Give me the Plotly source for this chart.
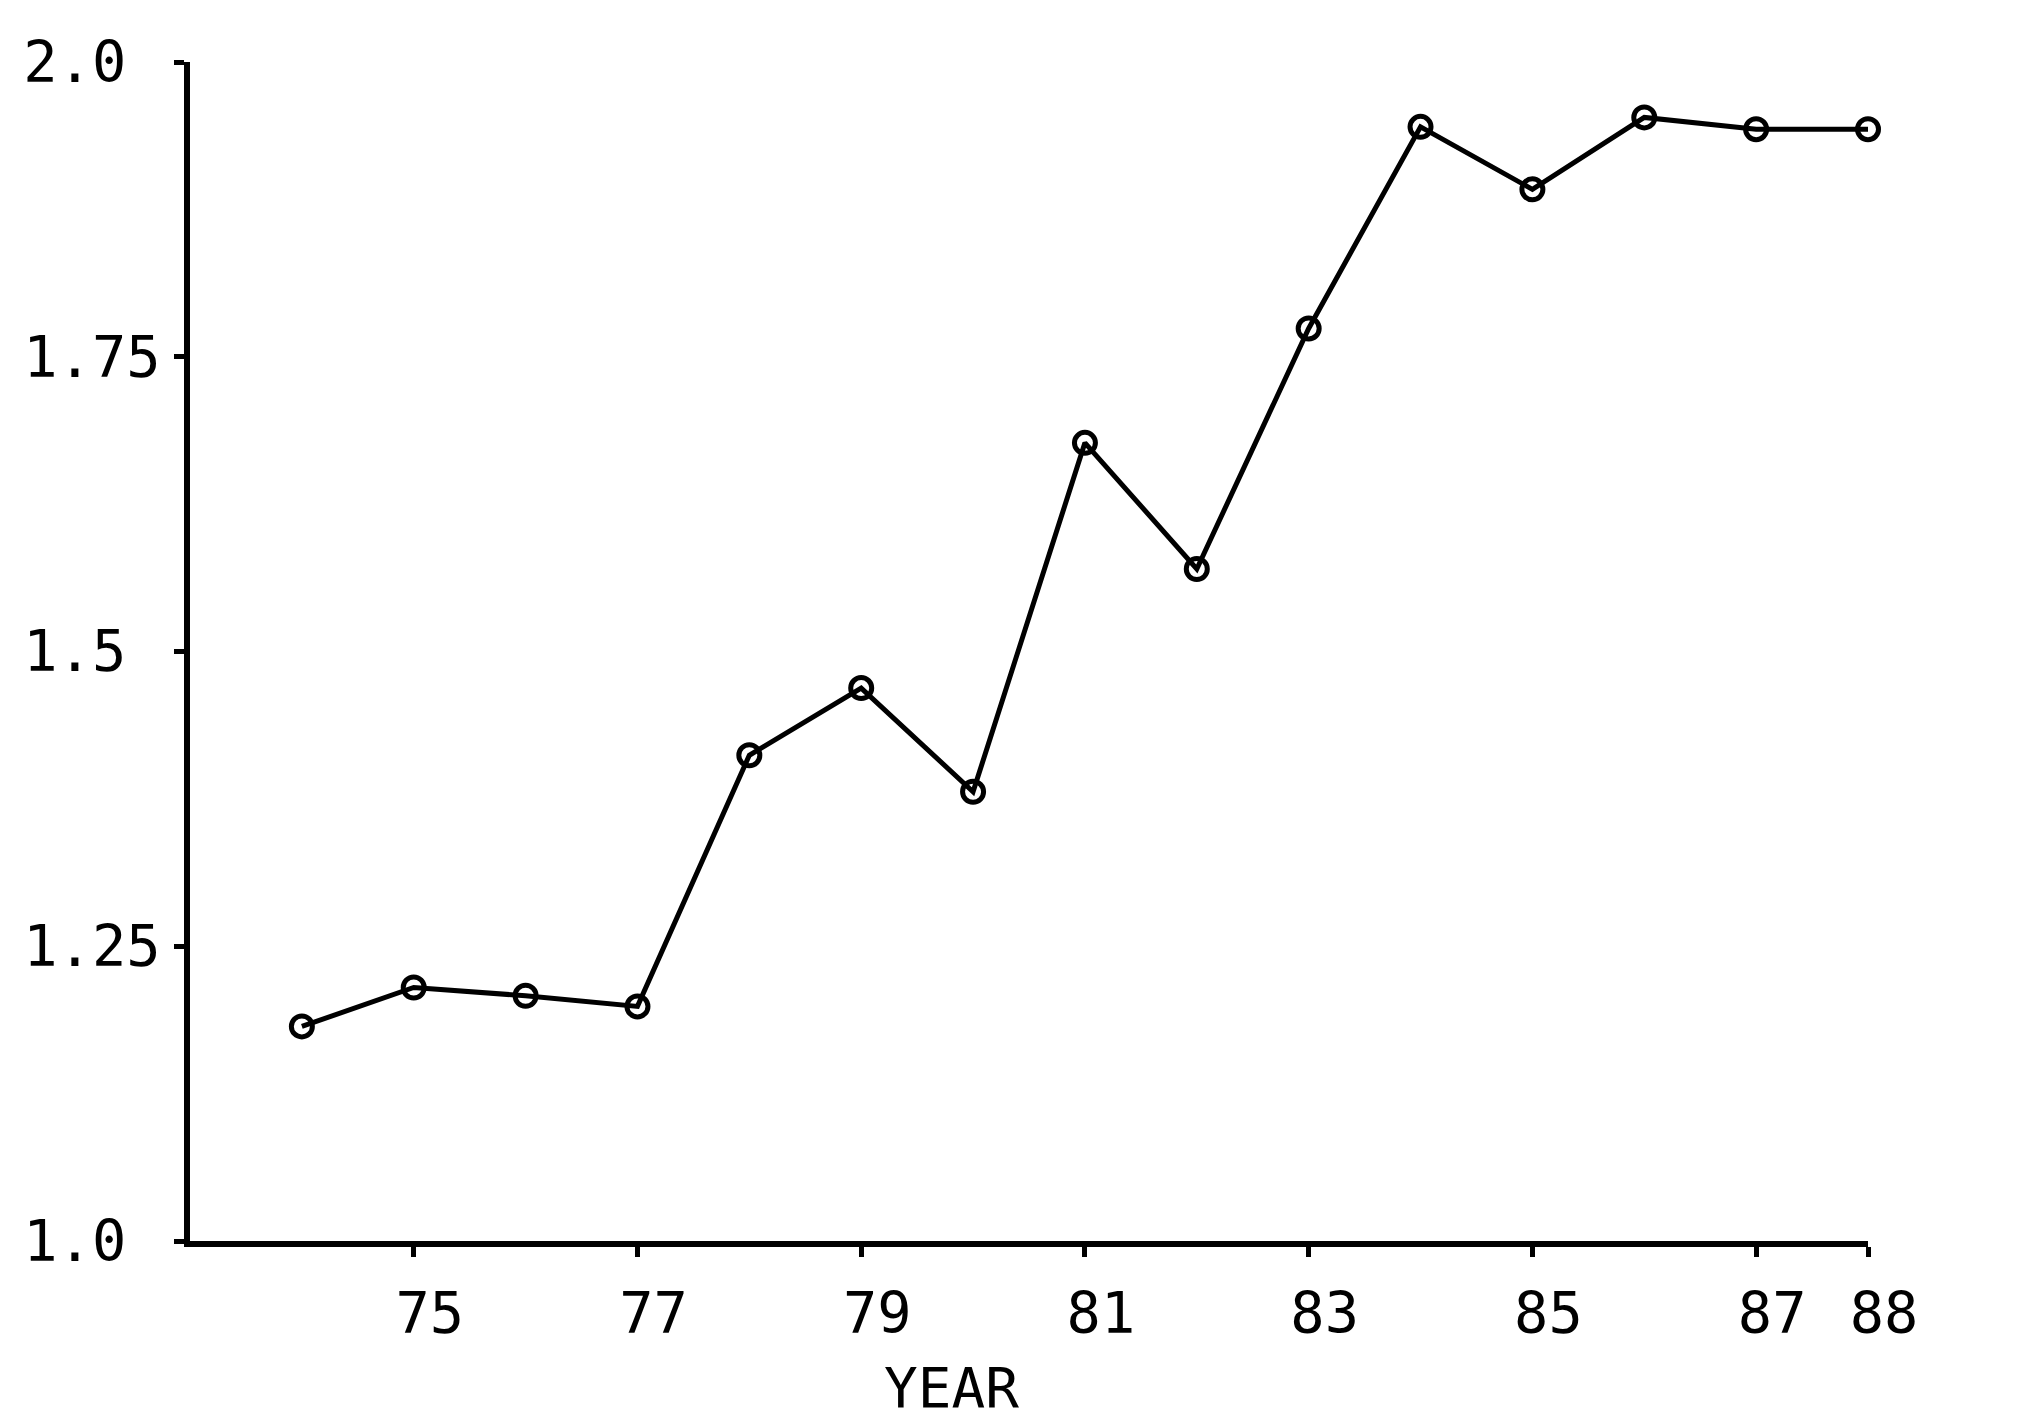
import plotly.graph_objects as go

years = [74, 75, 76, 77, 78, 79, 80, 81, 82, 83, 84, 85, 86, 87, 88]
values = [1.182, 1.215, 1.208, 1.199, 1.412, 1.469, 1.381, 1.677, 1.570,
          1.774, 1.945, 1.892, 1.953, 1.943, 1.943]

x_tick_vals = [75, 77, 79, 81, 83, 85, 87, 88]
x_tick_text = ["75", "77", "79", "81", "83", "85", "87", "88"]
y_tick_vals = [1.0, 1.25, 1.5, 1.75, 2.0]
y_tick_text = ["1.0\u00a0", "1.25", "1.5\u00a0", "1.75", "2.0\u00a0"]

FONT = "DejaVu Sans Mono"

fig = go.Figure()
fig.add_trace(go.Scatter(
    x=years, y=values, mode="lines+markers",
    line=dict(color="black", width=5),
    marker=dict(symbol="circle-open", size=21, color="black",
                line=dict(width=5, color="black")),
    cliponaxis=False, showlegend=False,
))

fig.update_layout(
    width=2031, height=1419,
    paper_bgcolor="white", plot_bgcolor="white",
    margin=dict(l=182, r=171, t=54, b=186),
    font=dict(family=FONT, size=57, color="black"),
    xaxis=dict(range=[73, 88], showgrid=False, zeroline=False,
               showline=True, linecolor="black", linewidth=6,
               tickmode="array", tickvals=x_tick_vals, ticktext=x_tick_text,
               ticks="outside", ticklen=10, tickwidth=5, tickcolor="black",
               ticklabelshift=16, ticklabelstandoff=8,
               tickfont=dict(family=FONT, size=57)),
    yaxis=dict(range=[1.0, 2.0], showgrid=False, zeroline=False,
               showline=True, linecolor="black", linewidth=6,
               tickmode="array", tickvals=y_tick_vals, ticktext=y_tick_text,
               ticks="outside", ticklen=10, tickwidth=5, tickcolor="black",
               ticklabelstandoff=2,
               tickfont=dict(family=FONT, size=57)),
    annotations=[dict(text="YEAR", xref="paper", yref="paper",
                      x=0.454, y=-0.124, xanchor="center", yanchor="middle",
                      showarrow=False, font=dict(family=FONT, size=56))],
)

fig.write_html("out.html")
